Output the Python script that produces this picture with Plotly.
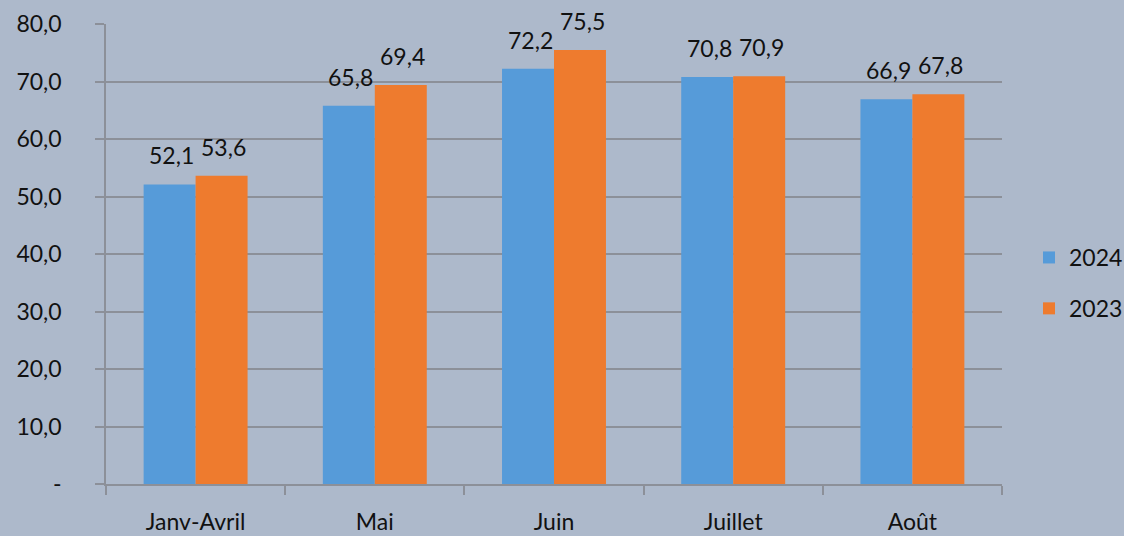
import plotly.graph_objects as go

categories = ["Janv-Avril", "Mai", "Juin", "Juillet", "Août"]
values_2024 = [52.1, 65.8, 72.2, 70.8, 66.9]
values_2023 = [53.6, 69.4, 75.5, 70.9, 67.8]
ytick_vals = [0, 10, 20, 30, 40, 50, 60, 70, 80]
ytick_text = ["-", "10,0", "20,0", "30,0", "40,0", "50,0", "60,0", "70,0", "80,0"]

BG = "#ADB9CB"
GRID = "#8C9099"
FONT = "Lato"


def fmt(v):
    return f"{v:.1f}".replace(".", ",")


fig = go.Figure()
fig.add_trace(go.Bar(x=categories, y=values_2024, name="2024",
                     marker=dict(color="#569BD9", line=dict(width=0)),
                     legendgroup="a"))
fig.add_trace(go.Bar(x=categories, y=values_2023, name="2023",
                     marker=dict(color="#EE7B2E", line=dict(width=0)),
                     legendgroup="b"))

# data labels above each bar
annots = []
for cat, v in zip(categories, values_2024):
    annots.append(dict(x=cat, y=v, xref="x", yref="y", text=fmt(v), showarrow=False,
                       xshift=-24, yshift=29, yanchor="middle",
                       font=dict(size=23, color="#111111", family=FONT)))
for cat, v in zip(categories, values_2023):
    annots.append(dict(x=cat, y=v, xref="x", yref="y", text=fmt(v), showarrow=False,
                       xshift=28, yshift=29, yanchor="middle",
                       font=dict(size=23, color="#111111", family=FONT)))

fig.update_layout(
    width=1124, height=536,
    paper_bgcolor=BG, plot_bgcolor=BG,
    barmode="group", bargap=0.42, bargroupgap=0,
    margin=dict(l=106, r=122, t=24, b=52, autoexpand=False),
    font=dict(family=FONT, size=23, color="#111111"),
    annotations=annots,
    legend=dict(x=1029 / 1124, y=(536 - 283) / 536, xref="container", yref="container",
                xanchor="left", yanchor="middle", itemwidth=30,
                tracegroupgap=18, font=dict(size=23), bgcolor="rgba(0,0,0,0)"),
)
fig.update_xaxes(showgrid=False, showline=True, linecolor=GRID, linewidth=1.5,
                 ticks="outside", tickson="boundaries", ticklen=9, tickcolor=GRID,
                 tickwidth=1.5, ticklabelstandoff=17, automargin=False,
                 tickfont=dict(size=23))
fig.update_yaxes(range=[0, 80], tickvals=ytick_vals, ticktext=ytick_text,
                 showgrid=True, gridcolor=GRID, gridwidth=1.5,
                 showline=True, linecolor=GRID, linewidth=1.5,
                 ticks="outside", ticklen=9, tickcolor=GRID, tickwidth=1.5,
                 ticklabelstandoff=29, zeroline=False, automargin=False,
                 tickfont=dict(size=23))

fig.write_html("out.html", config={"displayModeBar": False},
               post_script="document.body.style.margin='0';")
